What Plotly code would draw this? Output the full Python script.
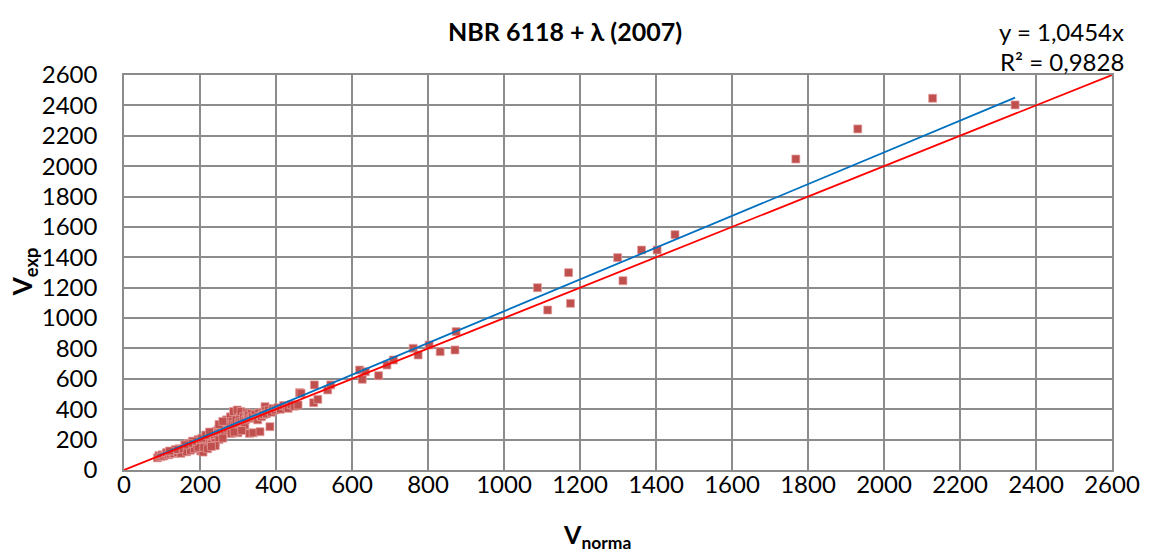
import plotly.graph_objects as go

# ---- data ----
v_norma = [88, 92, 97, 100, 105, 110, 112, 118, 122, 128, 132, 138, 142, 148, 152, 158, 160, 165, 170, 172,
           178, 182, 185, 190, 193, 198, 200, 202, 205, 208, 212, 215, 218, 222, 225, 228, 232, 235, 238, 242,
           245, 248, 252, 255, 258, 262, 265, 268, 270, 272, 275, 278, 280, 282, 285, 288, 290, 295, 298, 300,
           302, 305, 308, 310, 315, 318, 320, 322, 325, 328, 330, 332, 335, 338, 340, 345, 348, 352, 355, 358,
           360, 362, 365, 368, 371, 372, 375, 380, 384, 388, 392, 398, 405, 412, 420, 428, 432, 440, 448, 458,
           150, 165, 175, 185, 195, 210, 220, 230, 240, 250, 260, 195, 205, 215, 225, 180, 170, 160, 145, 135,
           120, 250, 260, 290, 310, 240, 230,
           462, 466, 499, 501, 510, 536, 544, 620, 627, 635, 670, 692, 709, 761, 774, 803, 832, 871, 874,
           1088, 1115, 1170, 1175, 1299, 1313, 1362, 1403, 1450, 1768, 1931, 2128, 2345]
v_exp = [80, 95, 88, 100, 92, 105, 115, 100, 110, 118, 108, 125, 115, 130, 122, 140, 125, 150, 138, 160,
         145, 170, 152, 180, 160, 175, 140, 125, 195, 118, 180, 205, 165, 215, 190, 230, 205, 240, 220, 255,
         235, 265, 245, 275, 240, 285, 260, 300, 330, 275, 310, 290, 350, 240, 320, 385, 300, 330, 395, 245,
         310, 340, 385, 320, 350, 296, 330, 375, 360, 362, 241, 340, 370, 350, 245, 365, 340, 330, 375, 252,
         355, 351, 380, 365, 417, 390, 370, 395, 285, 380, 405, 395, 410, 400, 425, 415, 406, 430, 420, 428,
         110, 120, 130, 140, 150, 150, 140, 170, 180, 200, 210, 200, 210, 230, 250, 190, 175, 165, 140, 135,
         125, 300, 320, 250, 260, 160, 155,
         509, 505, 443, 560, 465, 527, 560, 658, 597, 647, 621, 691, 724, 801, 757, 823, 779, 790, 911,
         1200, 1053, 1299, 1097, 1398, 1246, 1448, 1448, 1549, 2047, 2245, 2447, 2403]

slope = 1.0454
r2 = 0.9828
trend_x = [min(v_norma), max(v_norma)]
trend_y = [slope * x for x in trend_x]
ident_x = [0, 2600]
ident_y = [0, 2600]

tickvals = list(range(0, 2601, 200))
ticktext = [str(v) for v in tickvals]

FONT = "Lato, Carlito, Calibri, sans-serif"
GRID = "#8c8c8c"

fig = go.Figure()
fig.add_trace(go.Scatter(x=v_norma, y=v_exp, mode="markers",
                         marker=dict(symbol="square", size=8, color="#C0504D",
                                     line=dict(color="rgba(230,160,160,0.7)", width=1)),
                         showlegend=False))
fig.add_trace(go.Scatter(x=trend_x, y=trend_y, mode="lines",
                         line=dict(color="#0070C0", width=1.8), showlegend=False, hoverinfo="skip"))
fig.add_trace(go.Scatter(x=ident_x, y=ident_y, mode="lines",
                         line=dict(color="#FF0000", width=1.8), showlegend=False, hoverinfo="skip"))

axis_common = dict(range=[0, 2600], tickvals=tickvals, ticktext=ticktext,
                   showgrid=True, gridcolor=GRID, gridwidth=1.5,
                   showline=True, linecolor=GRID, linewidth=1.5, mirror=True,
                   zeroline=False, tickfont=dict(family=FONT, size=24, color="#000000"))

fig.update_layout(
    width=1152, height=560,
    margin=dict(l=124, r=28, t=75, b=90),
    plot_bgcolor="white", paper_bgcolor="white",
    xaxis=dict(**axis_common, ticks="", ticklabelstandoff=-8),
    yaxis=dict(**axis_common, ticks="outside", ticklen=20, tickcolor="rgba(0,0,0,0)"),
    annotations=[
        dict(text="<b>NBR 6118 + λ (2007)</b>", xref="paper", yref="paper",
             x=(570 - 124) / 1000, y=1 + (75 - 31) / 395, showarrow=False,
             font=dict(family=FONT, size=25, color="#000000"), xanchor="center", yanchor="middle"),
        dict(text="y = 1,0454x", xref="paper", yref="paper", x=1.0, y=1 + (75 - 31) / 395,
             xshift=14, showarrow=False, font=dict(family=FONT, size=24, color="#000000"),
             xanchor="right", yanchor="middle"),
        dict(text="R² = 0,9828", xref="paper", yref="paper", x=1.0, y=1 + (75 - 61) / 395,
             xshift=14, showarrow=False, font=dict(family=FONT, size=24, color="#000000"),
             xanchor="right", yanchor="middle"),
        dict(text="<b>V<sub>exp</sub></b>", xref="paper", yref="paper",
             x=(22 - 124) / 1000, y=(470 - 272) / 395, textangle=-90, showarrow=False,
             font=dict(family=FONT, size=26, color="#000000"), xanchor="center", yanchor="middle"),
        dict(text="<b>V<sub>norma</sub></b>", xref="paper", yref="paper",
             x=(603 - 124) / 1000, y=-(536 - 470) / 395, showarrow=False,
             font=dict(family=FONT, size=25, color="#000000"), xanchor="center", yanchor="middle"),
    ],
)

fig.write_html("out.html")
